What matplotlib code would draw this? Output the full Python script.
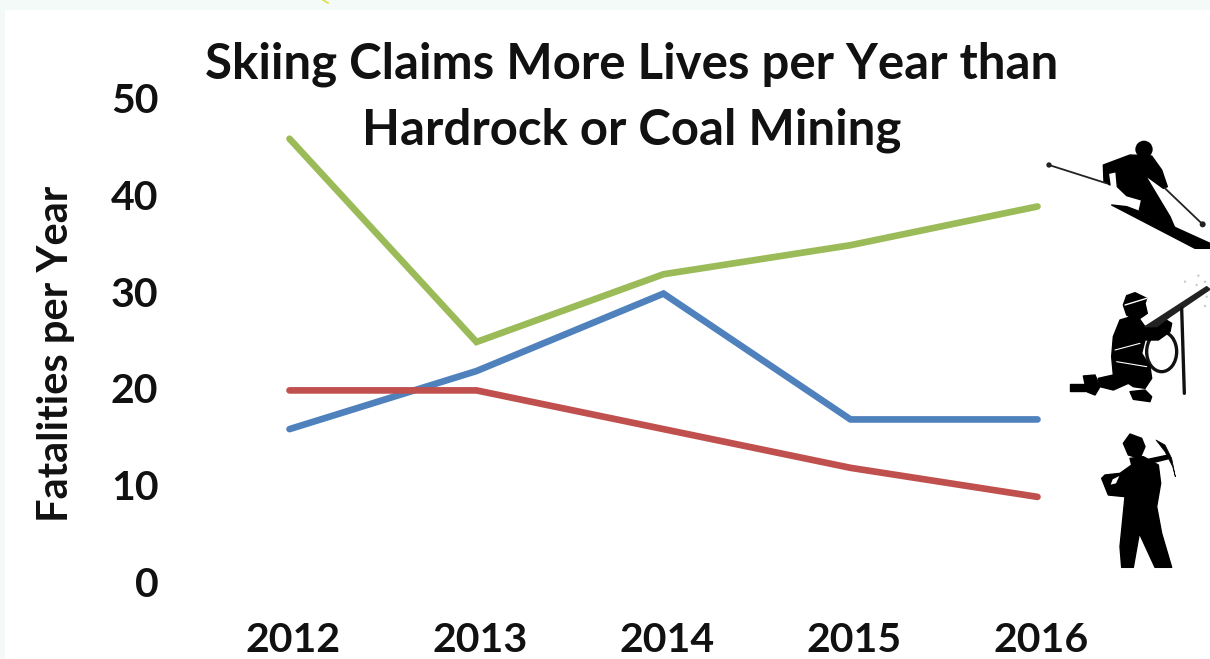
import matplotlib.pyplot as plt
from matplotlib.patches import Polygon, Circle, Rectangle, Ellipse
from matplotlib.transforms import ScaledTranslation

years = ['2012', '2013', '2014', '2015', '2016']
skiing = [46, 25, 32, 35, 39]
hardrock = [16, 22, 30, 17, 17]
coal = [20, 20, 16, 12, 9]
y_ticks = [0, 10, 20, 30, 40, 50]

W, H = 1210, 659
plt.rcParams['font.family'] = ['Lato', 'DejaVu Sans']
plt.rcParams['font.weight'] = 'bold'

fig = plt.figure(figsize=(W / 100, H / 100), dpi=100, facecolor='#f4faf8')

# overlay in pixel coordinates, for the white panel and the pictures
bg = fig.add_axes([0, 0, 1, 1], zorder=0)
bg.set_xlim(0, W)
bg.set_ylim(H, 0)
bg.axis('off')
bg.add_patch(Rectangle((5, 10), W, H, color='white', lw=0))
bg.plot([323, 328], [0, 3], color='#d8e04a', lw=1.2)

# chart axes, placed so the ticks land where they are in the picture
ax = fig.add_axes([196 / W, 1 - 584 / H, 935 / W, 484 / H], zorder=1)
ax.patch.set_alpha(0)
x = range(len(years))
ax.plot(x, skiing, color='#9bbb59', lw=4.8, solid_capstyle='round', solid_joinstyle='miter')
ax.plot(x, hardrock, color='#4f81bd', lw=4.8, solid_capstyle='round', solid_joinstyle='miter')
ax.plot(x, coal, color='#c0504d', lw=4.8, solid_capstyle='round', solid_joinstyle='miter')
ax.set_xlim(-0.5, 4.5)
ax.set_ylim(0, 50)
ax.set_xticks(list(x), years)
ax.set_yticks(y_ticks)
ax.tick_params(length=0, labelsize=29.5, labelcolor='#111111')
ax.tick_params(axis='x', pad=27.5)
ax.tick_params(axis='y', pad=27)
for s in ax.spines.values():
    s.set_visible(False)

# labels sit a few pixels off the points they belong to in the original
for lab in ax.get_xticklabels():
    lab.set_transform(lab.get_transform() + ScaledTranslation(4 / 100, 0, fig.dpi_scale_trans))
for lab in ax.get_yticklabels():
    lab.set_transform(lab.get_transform() + ScaledTranslation(0, 2 / 100, fig.dpi_scale_trans))

fig.text(632 / W, 1 - 64 / H, 'Skiing Claims More Lives per Year than', fontsize=35.4,
         ha='center', va='center', color='#111111')
fig.text(632 / W, 1 - 130 / H, 'Hardrock or Coal Mining', fontsize=35.4,
         ha='center', va='center', color='#111111')
fig.text(56 / W, 1 - 354 / H, 'Fatalities per Year', fontsize=30, rotation=90,
         ha='center', va='center', color='#111111')


def px(pts):
    return [(1030 + a / 3, 130 + b / 3) for a, b in pts]


def blob(pts, color='black', edge=1.0):
    bg.add_patch(Polygon(px(pts), closed=True, fc=color, ec=color, lw=edge, joinstyle='round'))


def stick(a, b, lw=1.3, color='#222222'):
    (x0, y0), (x1, y1) = px([a, b])
    bg.plot([x0, x1], [y0, y1], color=color, lw=lw, solid_capstyle='round')


def dot(a, b, r, color='black'):
    (cx, cy), = px([(a, b)])
    bg.add_patch(Circle((cx, cy), r / 3, color=color, lw=0))


# skier
dot(342, 58, 26)
blob([(220, 105), (300, 75), (365, 78), (395, 120), (412, 170), (400, 175), (345, 135),
      (420, 260), (435, 295), (370, 270), (328, 240), (335, 210), (290, 197), (262, 170),
      (258, 125), (235, 130), (240, 165), (222, 155)])
blob([(245, 225), (290, 230), (330, 245), (430, 290), (540, 340), (540, 355), (495, 355),
      (370, 290)])
stick((57, 105), (230, 160))
stick((405, 175), (518, 283))
dot(57, 105, 8, '#222222')
dot(518, 283, 9, '#222222')

# driller, kneeling
bg.add_patch(Ellipse(px([(395, 665)])[0], 30, 40, fill=False, ec='#111111', lw=2.4))
blob([(280, 525), (290, 497), (315, 488), (350, 505), (345, 520), (352, 550), (320, 572),
      (290, 555)])
blob([(270, 570), (320, 555), (345, 590), (400, 565), (425, 580), (420, 605), (385, 630),
      (345, 630), (335, 670), (360, 710), (365, 745), (345, 775), (310, 770), (295, 760),
      (250, 780), (210, 770), (205, 745), (250, 735), (245, 680), (250, 620)])
blob([(160, 738), (195, 735), (210, 770), (195, 795), (170, 785)])
blob([(120, 763), (165, 763), (165, 783), (120, 783)])
blob([(300, 785), (345, 780), (365, 800), (360, 815), (310, 808)])
blob([(345, 590), (530, 470), (540, 478), (420, 560), (380, 590)], color='#222222')
stick((455, 535), (463, 790), lw=2.4, color='#111111')
stick((285, 525), (350, 505), lw=1, color='white')
stick((255, 660), (330, 640), lw=0.8, color='white')
stick((260, 695), (350, 710), lw=0.8, color='white')
for a, b in [(465, 455), (505, 437), (525, 455), (500, 465), (530, 500), (525, 528)]:
    dot(a, b, 3.5, '#c8c8c8')

# miner with pick
blob([(280, 940), (300, 912), (335, 925), (345, 950), (330, 985), (295, 975)])
blob([(300, 985), (340, 980), (385, 1005), (392, 1060), (380, 1130), (395, 1210), (425, 1312),
      (375, 1312), (328, 1210), (310, 1312), (275, 1312), (270, 1250), (285, 1100),
      (235, 1095), (215, 1045), (225, 1035), (270, 1030), (305, 1005)])
blob([(248, 1048), (268, 1038), (258, 1060), (242, 1064)], color='white', edge=0)
blob([(345, 990), (415, 975), (420, 985), (360, 1000)])
blob([(378, 930), (405, 945), (425, 985), (436, 1040), (428, 1010), (405, 965)], edge=0.5)

fig.savefig('out.png', dpi=100, facecolor=fig.get_facecolor())
